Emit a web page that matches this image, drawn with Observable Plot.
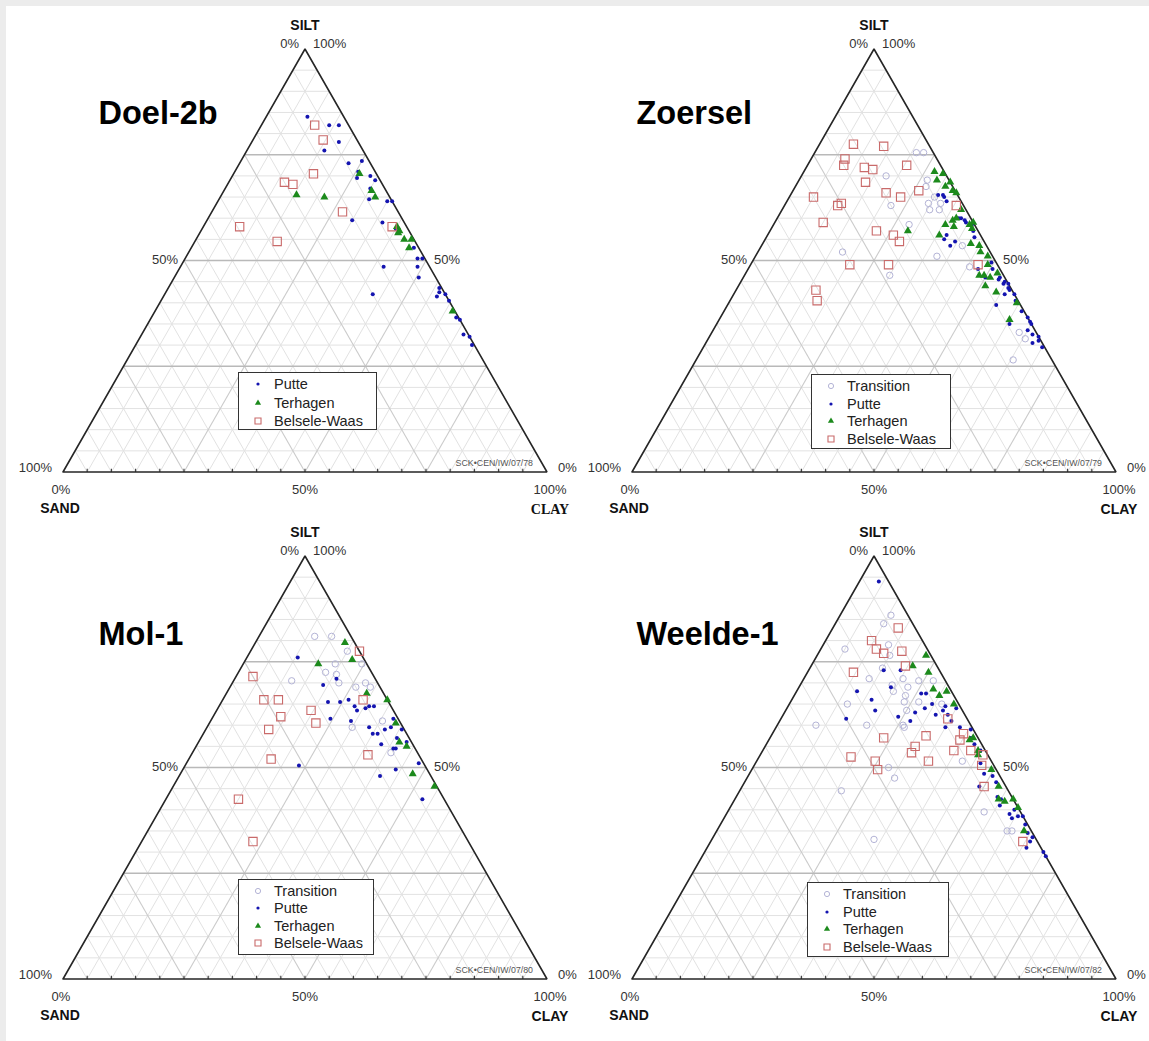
<!DOCTYPE html>
<html><head><meta charset="utf-8">
<script src="https://cdn.jsdelivr.net/npm/d3@7"></script>
<script src="https://cdn.jsdelivr.net/npm/@observablehq/plot@0.6"></script>
<style>
body{margin:0;background:#ececec}
#page{position:relative;width:1149px;height:1041px;background:#ececec;overflow:hidden;font-family:"Liberation Sans",Arial,sans-serif}
#sheet{position:absolute;left:6px;top:6px;width:1143px;height:1035px;background:#fff}
.panel{position:absolute;width:570px;height:507px}
.panel svg{position:absolute;left:0;top:0;max-width:none;overflow:visible;background:transparent}
.legend{position:absolute;box-sizing:border-box;border:1.5px solid #333;background:#fff}
.legend .row{position:absolute;left:0;height:18px;line-height:18px;font-size:14.5px;color:#222;white-space:nowrap}
.legend svg{position:absolute;top:3px}
</style></head><body>
<div id="page"><div id="sheet"></div></div>
<script>
// ---- data: [clay %, silt %] (sand = 100 - clay - silt) ----
const seriesNames = ["Transition", "Putte", "Terhagen", "Belsele-Waas"];

const doel2bPutte = [[8.5,84],[14,82],[16,82],[18,78],[16,76],[22.5,73],[25,73.5],[25.5,71],[26,69.5],[28.5,70],[30,69],[30,67],[31,64.5],[35,64],[36,64],[30,59.5],[36.5,59],[40,57.5],[46,53],[48,50.5],[49,50.5],[42,48.5],[49,48.5],[50.5,46],[43,42],[56,43.5],[56.5,42.5],[56.5,41.5],[58,42],[59.5,40.5],[63,36.5],[64,36],[66.5,32.5],[68,32],[69.5,30]];
const doel2bTerhagen = [[26,70.5],[15.5,65.5],[21.5,65],[30.5,66.5],[32,65],[40,58],[41,57],[41,56.5],[43,55],[44.5,55],[45,53],[61.5,38]];
const doel2bBelsele = [[11,82],[14.5,78.5],[16.5,70.5],[11.5,68.5],[13.5,68],[27,61.5],[7.5,58],[17,54.5],[39,58]];

const zoerselTransition = [[21,75.5],[22.5,75.5],[26.5,69],[27,67.5],[17.5,70],[29.5,63.5],[30.5,62],[30,65],[32,63.5],[32.5,62],[22,63],[28,58.5],[17.5,52],[37.5,51],[41.5,53.5],[30,46.5],[45.5,48.5],[63.5,33],[65.5,31.5],[65.5,26.5]];
const zoerselPutte = [[30.5,65.5],[31.5,65.5],[32,65],[37.5,60],[38,60],[39,59.5],[41,58.5],[42,57],[37,56],[37,55],[39,53.5],[39.5,54.5],[43,55.5],[47.5,48],[49.5,49.5],[50.5,48],[50,46],[53,45.5],[53,46],[54.5,45],[55.5,44.5],[54.5,44.5],[56,43.5],[56.5,43],[58,42],[55.5,39.5],[56,42],[59,40.5],[61.5,38],[63.5,36.5],[64.5,35.5],[65,35],[60.5,35],[65,33.5],[66.5,32.5],[68,32],[68.5,31],[67.5,30.5],[70,29.5],[33,64],[39.5,59]];
const zoerselTerhagen = [[27,71],[29,70.5],[28.5,69],[31.5,68.5],[31,67.5],[33,66.5],[34,66],[37,62],[36.5,59.5],[37,60],[35.5,58.5],[37.5,58],[40.5,58.5],[41.5,57.5],[28.5,57],[35.5,56],[43,54],[45,53.5],[46,52],[48,51],[49,49],[52,47],[48.5,46.5],[49.5,46.5],[51,46],[51,44],[54,42.5],[59.5,40],[60,36],[41,59]];
const zoerselBelsele = [[7,77.5],[13.5,77],[7,74],[7.5,72.5],[12,72],[14,71.5],[20.5,72.5],[14,68.5],[19.5,66],[23,65],[26,66.5],[5,65],[11,63],[11.5,63.5],[35.5,63],[10,59],[22,57],[26,56],[28,54.5],[20.5,49],[28.5,49],[47,49],[16.5,43],[18,40.5]];

const mol1Transition = [[11.5,81],[15,81],[20,77.5],[19,74.5],[24.5,74.5],[18,72.5],[20.5,72],[12,70.5],[22,70],[26,69],[27.5,70],[29,69],[35.5,61],[30,59.5],[41,53.5]];
const mol1Putte = [[10.5,76],[19,69.5],[21,71],[22,65.5],[24.5,65.5],[26,66],[28,64.5],[29,63.5],[30.5,64],[31,64.5],[32,64.5],[24.5,61.5],[29,61],[33.5,59.5],[35,58],[36,58],[37,59],[38,59.5],[37.5,61.5],[40.5,59],[38,55.5],[41,54.5],[41.5,54.5],[40.5,57],[43,56],[23.5,50.5],[41.5,48],[44,49.5],[48,51],[53,42.5]];
const mol1Terhagen = [[18.5,79.5],[15.5,74.5],[22,75.5],[29,67.5],[34,66],[38.5,60.5],[41.5,56],[43.5,55],[48,48.5],[54,45.5]];
const mol1Belsele = [[22.5,77.5],[3.5,71.5],[8.5,66],[11.5,66],[14,62],[19.5,63.5],[22,60.5],[13,59],[29,66],[17,52],[36.5,53],[15,42.5],[23,32.5]];

const weelde1Transition = [[10.5,86],[10,84],[13.5,79],[5,78],[15,76.5],[15,73.5],[13.5,71],[20.5,71],[24,70.5],[27,70.5],[19,69.5],[20,68],[22.5,69],[23,67],[12,65],[23.5,65.5],[26.5,65.5],[25,63.5],[31.5,65],[18.5,60],[8,60],[26.5,59.5],[26,60],[28,50],[30.5,47.5],[21,44.5],[33.5,33],[42.5,51.5],[53,39.5],[60,35],[61,35]];
const weelde1Putte = [[4,94],[15.5,73],[19,73],[12.5,68],[19,69],[16.5,66],[18.5,63.5],[13.5,61.5],[24,62],[27,61],[27,63],[26,67.5],[27,67.5],[28.5,64],[29.5,65],[31.5,62.5],[32.5,63.5],[32.5,64.5],[34,62.5],[35.5,61],[35,59.5],[35,64],[38,59.5],[40.5,59],[41.5,57],[43,55.5],[45,54],[46.5,51],[48.5,48.5],[50.5,48],[49,45.5],[52,46.5],[54,43],[55,42.5],[55.5,41],[58.5,39],[59.5,38],[59,40],[60.5,38.5],[61.5,38.5],[63,36.5],[64.5,34.5],[66,32.5],[66,31],[66,33.5],[70,30],[71,29]];
const weelde1Terhagen = [[22.5,76.5],[21,74],[25,72.5],[28,68.5],[30,67],[31,68],[34,65],[41.5,56.5],[42,57],[44.5,54],[45,53],[49.5,49.5],[53,45.5],[54.5,42.5],[56,42],[57.5,42.5],[59.5,40.5],[63.5,35]];
const weelde1Belsele = [[13.5,83],[9.5,80],[11.5,78],[13.5,77],[17,77.5],[19.5,74],[9.5,72.5],[34.5,61.5],[39.5,58],[39.5,56.5],[23.5,57],[32,57.5],[31,55],[31,53.5],[19,52.5],[24.5,51.5],[26,49.5],[35.5,51.5],[39.5,54],[43,54],[46,53],[47,50.5],[50,45.5],[64.5,32.5]];

const panelTitles = ["Doel-2b", "Zoersel", "Mol-1", "Weelde-1"];
const panelStamps = ["SCK\u2022CEN/IW/07/78", "SCK\u2022CEN/IW/07/79", "SCK\u2022CEN/IW/07/80", "SCK\u2022CEN/IW/07/82"];
const gridMinor = [5,10,15,20,30,35,40,45,55,60,65,70,80,85,90,95];
const gridMajor = [25,50,75];
const baseTicks = [5,10,15,20,25,30,35,40,45,50,55,60,65,70,75,80,85,90,95];

// ---- layout / style ----
const FONT = '"Liberation Sans", Arial, sans-serif';
const L = 62.5, SIDE = 484, BASE = 471.5, H = 423;
const panels = [
  {left:0, top:0, titleX:98, titleY:113, clayFont:'"Liberation Serif", "Times New Roman", serif',
   series:{"Putte":doel2bPutte, "Terhagen":doel2bTerhagen, "Belsele-Waas":doel2bBelsele},
   legend:{x:238, y:372, w:139, h:58, step:18.5}},
  {left:569, top:0, titleX:67, titleY:113, clayFont:FONT,
   series:{"Transition":zoerselTransition, "Putte":zoerselPutte, "Terhagen":zoerselTerhagen, "Belsele-Waas":zoerselBelsele},
   legend:{x:811, y:374, w:140, h:75, step:17.5}},
  {left:0, top:507, titleX:98, titleY:127, clayFont:FONT,
   series:{"Transition":mol1Transition, "Putte":mol1Putte, "Terhagen":mol1Terhagen, "Belsele-Waas":mol1Belsele},
   legend:{x:238, y:879, w:136, h:76, step:17.4}},
  {left:569, top:507, titleX:67, titleY:127, clayFont:FONT,
   series:{"Transition":weelde1Transition, "Putte":weelde1Putte, "Terhagen":weelde1Terhagen, "Belsele-Waas":weelde1Belsele},
   legend:{x:807, y:882, w:142, h:75, step:17.5}}
];
const markStyle = {
  "Transition":   {symbol:"circle",   r:3.2, fill:"none", stroke:"#b4b4d6", strokeWidth:1, lr:2.6},
  "Putte":        {symbol:"circle",   r:2.0, fill:"#1414b0", stroke:"none", strokeWidth:0, lr:1.6},
  "Terhagen":     {symbol:"triangle", r:3.0, fill:"#1c8a1c", stroke:"none", strokeWidth:0, lr:2.3},
  "Belsele-Waas": {symbol:"square",   r:4.7, fill:"none", stroke:"#c96a6a", strokeWidth:1.1, lr:3.4}
};

// ternary projection helpers
const X = d => d.clay + d.silt / 2;
const Y = d => d.silt;
const comp = (clay, silt) => ({clay, silt});
const toObj = arr => arr.map(([clay, silt]) => ({clay, silt}));

function segments(levels) {
  const out = [];
  for (const k of levels) {
    out.push({a: comp(0, k), b: comp(100 - k, k), dir: "h"});
    out.push({a: comp(k, 0), b: comp(k, 100 - k), dir: "d"});
    out.push({a: comp(100 - k, 0), b: comp(0, 100 - k), dir: "d"});
  }
  return out;
}
const linkOpts = {x1: s => X(s.a), y1: s => Y(s.a), x2: s => X(s.b), y2: s => Y(s.b)};

const page = document.getElementById("page");

panels.forEach((p, i) => {
  const corners = [comp(0,0), comp(0,100), comp(100,0), comp(0,0)];
  const pct = [
    {c:comp(0,100), t:"0%", a:"end", dx:-6, dy:-5.5},
    {c:comp(0,100), t:"100%", a:"start", dx:8, dy:-5.5},
    {c:comp(0,50), t:"50%", a:"end", dx:-6, dy:-1},
    {c:comp(50,50), t:"50%", a:"start", dx:8, dy:-1},
    {c:comp(0,0), t:"100%", a:"end", dx:-11, dy:-4.5},
    {c:comp(100,0), t:"0%", a:"start", dx:11, dy:-4.5},
    {c:comp(0,0), t:"0%", a:"middle", dx:-2, dy:17.5},
    {c:comp(50,0), t:"50%", a:"middle", dx:0, dy:17.5},
    {c:comp(100,0), t:"100%", a:"middle", dx:3, dy:17.5}
  ];
  const marks = [
    Plot.link(segments(gridMinor), {...linkOpts, stroke:"#e2e2e2", strokeWidth:1}),
    Plot.link(segments(gridMajor).filter(s => s.dir === "d"), {...linkOpts, stroke:"#cbcbcb", strokeWidth:1.1}),
    Plot.link(segments(gridMajor).filter(s => s.dir === "h"), {...linkOpts, stroke:"#b9b9b9", strokeWidth:1.3}),
    Plot.link(baseTicks, {x1: k => k, x2: k => k, y1: 0, y2: 0.75, stroke:"#444", strokeWidth:1.2}),
    Plot.line(corners, {x: X, y: Y, stroke:"#262626", strokeWidth:1.6, strokeLinejoin:"miter"}),
    ...pct.map(l => Plot.text([l], {x: d => X(d.c), y: d => Y(d.c), text: d => d.t, textAnchor: l.a, dx: l.dx, dy: l.dy, fontSize: 13, fill: "#333"})),
    Plot.text([comp(0,100)], {x: X, y: Y, text: () => "SILT", dy: -23, fontSize: 14, fontWeight: "bold", fill: "#111"}),
    Plot.text([comp(0,0)], {x: X, y: Y, text: () => "SAND", dx: -3, dy: 36.5, fontSize: 14, fontWeight: "bold", fill: "#111"}),
    Plot.text([comp(100,0)], {x: X, y: Y, text: () => "CLAY", dx: 3, dy: 38, fontSize: 14, fontWeight: "bold", fill: "#111", fontFamily: p.clayFont}),
    Plot.text([panelStamps[i]], {x: () => 100, y: () => 0, text: d => d, textAnchor: "end", dx: -14, dy: -9, fontSize: 8.8, fill: "#555"}),
    Plot.text([panelTitles[i]], {frameAnchor: "top-left", text: d => d, textAnchor: "start", lineAnchor: "middle", dx: p.titleX, dy: p.titleY, fontSize: 32.5, fontWeight: "bold", fill: "#000"})
  ];
  for (const name of seriesNames) {
    const data = p.series[name];
    if (!data) continue;
    const s = markStyle[name];
    marks.push(Plot.dot(toObj(data), {x: X, y: Y, symbol: s.symbol, r: s.r, fill: s.fill, stroke: s.stroke, strokeWidth: s.strokeWidth}));
  }
  const svg = Plot.plot({
    width: 570, height: 507, margin: 0,
    x: {domain: [0, 100], range: [L, L + SIDE], axis: null},
    y: {domain: [0, 100], range: [BASE, BASE - H], axis: null},
    style: {fontFamily: FONT, background: "transparent", overflow: "visible"},
    marks
  });
  const div = document.createElement("div");
  div.className = "panel";
  div.style.left = p.left + "px";
  div.style.top = p.top + "px";
  div.appendChild(svg);
  page.appendChild(div);

  // legend
  const lg = document.createElement("div");
  lg.className = "legend";
  Object.assign(lg.style, {left: p.legend.x + "px", top: p.legend.y + "px", width: p.legend.w + "px", height: p.legend.h + "px"});
  const names = seriesNames.filter(n => p.series[n]);
  names.forEach((name, j) => {
    const s = markStyle[name];
    const row = document.createElement("div");
    row.className = "row";
    row.style.top = (2 + j * p.legend.step) + "px";
    row.style.width = "100%";
    const symType = {circle: d3.symbolCircle, triangle: d3.symbolTriangle, square: d3.symbolSquare}[s.symbol];
    const path = d3.symbol(symType, Math.PI * s.lr * s.lr)();
    row.innerHTML = `<svg width="12" height="12" style="left:13px"><path transform="translate(6,6)" d="${path}" fill="${s.fill}" stroke="${s.stroke}" stroke-width="${s.strokeWidth}"/></svg><span style="position:absolute;left:35px">${name}</span>`;
    lg.appendChild(row);
  });
  page.appendChild(lg);
});
</script></body></html>
